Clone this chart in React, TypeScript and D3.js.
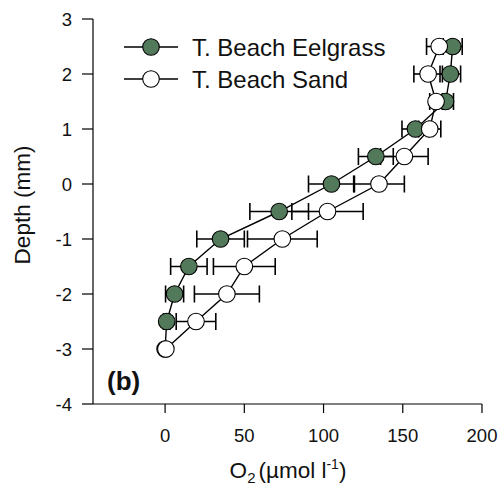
import React from "react";
import * as d3 from "d3";

const depths = [2.5, 2, 1.5, 1, 0.5, 0, -0.5, -1, -1.5, -2, -2.5, -3];
const eelgrassO2 = [181.5, 180, 177, 158, 133, 105, 72, 35, 15, 6, 1, 0];
const eelgrassErr = [6, 6.5, 5, 8.5, 11, 14.5, 18.5, 15, 11.5, 5.7, 2, 0];
const sandO2 = [173, 166, 171, 167, 151, 135, 102.5, 74, 50, 39, 19.5, 0.5];
const sandErr = [8, 9, 4, 7, 15, 16, 22.5, 22, 19.5, 20.5, 12.5, 0];
const xTicks = [0, 50, 100, 150, 200];
const yTicks = [3, 2, 1, 0, -1, -2, -3, -4];
const seriesNames = ["T. Beach Eelgrass", "T. Beach Sand"];

const FONT = "'Liberation Sans', Arial, Helvetica, sans-serif";
const GREEN = "#52795a";

export default function App() {
  const W = 504, H = 502;
  const x = d3.scaleLinear().domain([-45.5, 200]).range([93, 482]);
  const y = d3.scaleLinear().domain([-4, 3]).range([404, 19]);
  const line = d3.line<[number, number]>().x(d => x(d[0])).y(d => y(d[1]));

  const series = [
    { name: seriesNames[0], vals: eelgrassO2, err: eelgrassErr, fill: GREEN },
    { name: seriesNames[1], vals: sandO2, err: sandErr, fill: "#ffffff" },
  ];
  const capH = 8.5;
  const r = 8.3;

  return (
    <svg width={W} height={H} style={{ position: "absolute", left: 0, top: 0, background: "#fff" }} fontFamily={FONT}>
      {/* axes */}
      <line x1={x(-45.5)} x2={x(200)} y1={y(-4)} y2={y(-4)} stroke="#000" strokeWidth={1.2} />
      <line x1={x(-45.5)} x2={x(-45.5)} y1={y(3)} y2={y(-4)} stroke="#000" strokeWidth={1.2} />
      {yTicks.map(t => (
        <g key={"y" + t}>
          <line x1={x(-45.5) - 11} x2={x(-45.5)} y1={y(t)} y2={y(t)} stroke="#000" strokeWidth={1.2} />
          <text x={72} y={y(t) + 6.5} textAnchor="end" fontSize={18.5} fill="#111">{t}</text>
        </g>
      ))}
      {xTicks.map(t => (
        <g key={"x" + t}>
          <line x1={x(t)} x2={x(t)} y1={y(-4)} y2={y(-4) + 9} stroke="#000" strokeWidth={1.2} />
          <text x={x(t)} y={442} textAnchor="middle" fontSize={18.5} fill="#111">{t}</text>
        </g>
      ))}
      {/* axis titles */}
      <text x={288} y={478} textAnchor="middle" fontSize={22.5} fill="#111">
        <tspan>O</tspan>
        <tspan fontSize={15} dy={5}>2</tspan>
        <tspan dy={-5} dx={3}>(µmol l</tspan>
        <tspan fontSize={14} dy={-9}>-1</tspan>
        <tspan dy={9}>)</tspan>
      </text>
      <text transform="translate(30,205) rotate(-90)" textAnchor="middle" fontSize={22.5} fill="#111">Depth (mm)</text>
      <text x={107} y={390} fontSize={26} fontWeight="bold" fill="#111">(b)</text>

      {/* series */}
      {series.map(s => {
        const pts: [number, number][] = s.vals.map((v, i) => [v, depths[i]]);
        return (
          <g key={s.name}>
            <path d={line(pts) || ""} fill="none" stroke="#000" strokeWidth={1.4} />
            {pts.map((p, i) => s.err[i] > 0 ? (
              <g key={i} stroke="#000" strokeWidth={1.6}>
                <line x1={x(p[0] - s.err[i])} x2={x(p[0] + s.err[i])} y1={y(p[1])} y2={y(p[1])} />
                <line x1={x(p[0] - s.err[i])} x2={x(p[0] - s.err[i])} y1={y(p[1]) - capH} y2={y(p[1]) + capH} />
                <line x1={x(p[0] + s.err[i])} x2={x(p[0] + s.err[i])} y1={y(p[1]) - capH} y2={y(p[1]) + capH} />
              </g>
            ) : null)}
          </g>
        );
      })}
      {series.map(s => (
        <g key={s.name + "pts"}>
          {s.vals.map((v, i) => (
            <circle key={i} cx={x(v)} cy={y(depths[i])} r={r} fill={s.fill} stroke="#000" strokeWidth={1.1} />
          ))}
        </g>
      ))}

      {/* legend */}
      {series.map((s, i) => {
        const ly = 47 + i * 32;
        return (
          <g key={s.name + "leg"}>
            <line x1={124} x2={178} y1={ly} y2={ly} stroke="#000" strokeWidth={1.4} />
            <circle cx={151} cy={ly} r={r} fill={s.fill} stroke="#000" strokeWidth={1.1} />
            <text x={192} y={ly + 8.5} fontSize={24} fill="#111">{s.name}</text>
          </g>
        );
      })}
    </svg>
  );
}
